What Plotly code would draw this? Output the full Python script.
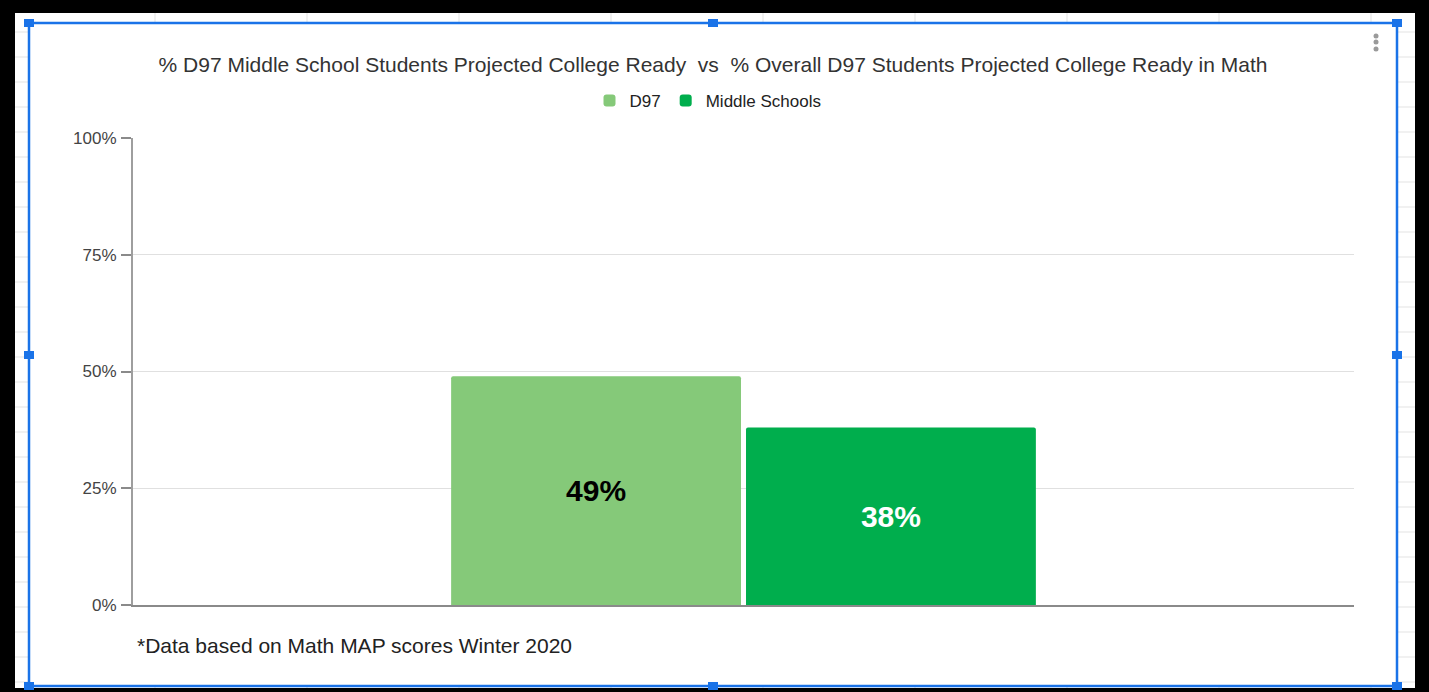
import plotly.graph_objects as go

# ---- data ----
categories = ["Math"]
series_names = ["D97", "Middle Schools"]
d97_values = [0.49]
middle_values = [0.38]
y_tickvals = [0, 0.25, 0.5, 0.75, 1.0]
title_text = "% D97 Middle School Students Projected College Ready  vs  % Overall D97 Students Projected College Ready in Math"
footnote_text = "*Data based on Math MAP scores Winter 2020"

# ---- layout geometry (pixels) ----
W, H = 1429, 692
L, R, T, B = 133, 1354, 138, 605
PW, PH = R - L, B - T


def px(x):
    return (x - L) / PW


def py(y):
    return (B - y) / PH


FONT = "Liberation Sans, Arial, sans-serif"
BLUE = "#1a73e8"

fig = go.Figure()
fig.add_trace(go.Bar(
    name=series_names[0], x=categories, y=d97_values,
    marker=dict(color="#85c979", line=dict(width=0), cornerradius=2),
    texttemplate="%{y:.0%}", textposition="inside", insidetextanchor="middle",
    textfont=dict(family=FONT, size=30, color="#000000", weight="bold"),
    constraintext="none", hoverinfo="skip",
))
fig.add_trace(go.Bar(
    name=series_names[1], x=categories, y=middle_values,
    marker=dict(color="#00ae4d", line=dict(width=0), cornerradius=2),
    texttemplate="%{y:.0%}", textposition="inside", insidetextanchor="middle",
    textfont=dict(family=FONT, size=30, color="#ffffff", weight="bold"),
    constraintext="none", hoverinfo="skip",
))

shapes = []
# spreadsheet background behind chart
shapes.append(dict(type="rect", xref="paper", yref="paper", layer="below",
                   x0=px(15), x1=px(1415), y0=py(688), y1=py(13),
                   fillcolor="#ffffff", line=dict(width=0)))
for gx in [155, 307, 459, 611, 763, 915, 1067, 1219, 1371]:
    shapes.append(dict(type="line", xref="paper", yref="paper", layer="below",
                       x0=px(gx), x1=px(gx), y0=py(688), y1=py(13),
                       line=dict(color="#e3e3e3", width=1)))
for gy in range(32, 688, 25):
    shapes.append(dict(type="line", xref="paper", yref="paper", layer="below",
                       x0=px(15), x1=px(1415), y0=py(gy), y1=py(gy),
                       line=dict(color="#e3e3e3", width=1)))
# chart white area with blue selection border
shapes.append(dict(type="rect", xref="paper", yref="paper", layer="below",
                   x0=px(29), x1=px(1397), y0=py(686), y1=py(23),
                   fillcolor="#ffffff", line=dict(color=BLUE, width=2.5)))
# handles
for hx in [29, 713, 1397]:
    for hy in [23, 355, 686]:
        if hx == 713 and hy == 355:
            continue
        shapes.append(dict(type="rect", xref="paper", yref="paper", layer="above",
                           x0=px(hx - 5), x1=px(hx + 5), y0=py(hy + 4), y1=py(hy - 4),
                           fillcolor=BLUE, line=dict(width=0)))
# menu dots
for dy in [36, 42, 49]:
    shapes.append(dict(type="circle", xref="paper", yref="paper", layer="above",
                       x0=px(1373.5), x1=px(1378.5), y0=py(dy + 2.5), y1=py(dy - 2.5),
                       fillcolor="#9a9a9a", line=dict(width=0)))

fig.update_layout(
    width=W, height=H,
    margin=dict(l=L, r=W - R, t=T, b=H - B, pad=0),
    paper_bgcolor="#000000",
    plot_bgcolor="rgba(0,0,0,0)",
    barmode="group", bargap=0.517, bargroupgap=0.017,
    title=dict(text=title_text, x=713 / W, xanchor="center", xref="container",
               y=1 - 65 / H, yanchor="middle", yref="container",
               font=dict(family=FONT, size=21, color="#333333")),
    legend=dict(orientation="h", x=px(708), xanchor="center", y=py(101), yanchor="middle",
                font=dict(family=FONT, size=17, color="#222222"),
                bgcolor="rgba(0,0,0,0)", itemclick=False, traceorder="normal"),
    xaxis=dict(showticklabels=False, ticks="", showgrid=False, showline=True,
               linecolor="#8a8a8a", linewidth=2, fixedrange=True),
    yaxis=dict(range=[0, 1], tickvals=y_tickvals, tickformat=".0%",
               tickfont=dict(family=FONT, size=17, color="#444444"),
               showgrid=True, gridcolor="#e0e0e0", gridwidth=1,
               showline=True, linecolor="#9e9e9e", linewidth=2,
               ticks="outside", ticklen=10, tickwidth=1.5, tickcolor="#8a8a8a",
               ticklabelstandoff=1, zeroline=False, fixedrange=True),
    shapes=shapes,
    annotations=[dict(text=footnote_text, xref="paper", yref="paper",
                      x=px(135), y=py(645), xanchor="left", yanchor="middle",
                      showarrow=False, font=dict(family=FONT, size=21, color="#222222"))],
    showlegend=True,
)

fig.write_html("out.html", config={"displayModeBar": False})
